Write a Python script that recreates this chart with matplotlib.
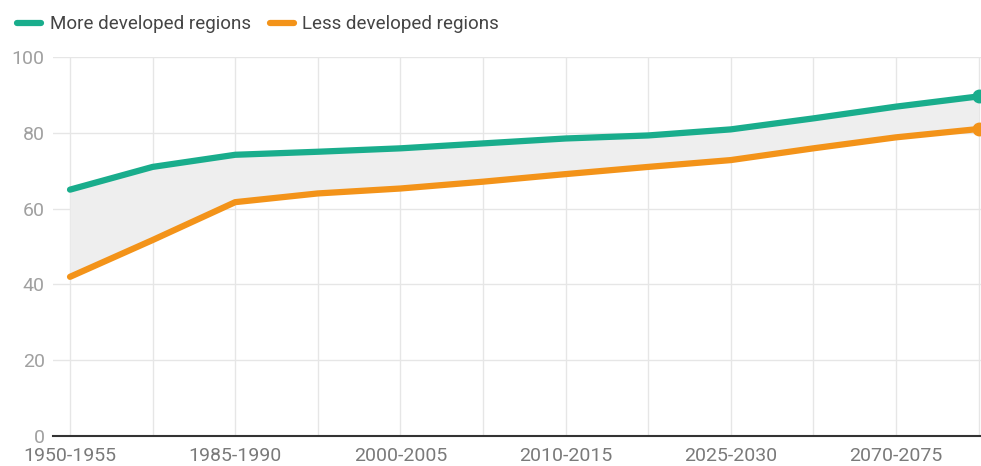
import matplotlib
matplotlib.use("Agg")
import matplotlib.pyplot as plt
from matplotlib.lines import Line2D

periods = ["1950-1955", "1965-1970", "1985-1990", "1995-2000", "2000-2005", "2005-2010",
           "2010-2015", "2015-2020", "2025-2030", "2045-2050", "2070-2075", "2095-2100"]
shown_labels = ["1950-1955", "1985-1990", "2000-2005", "2010-2015", "2025-2030", "2070-2075"]
more_developed = [65.0, 71.0, 74.2, 75.0, 75.9, 77.2, 78.5, 79.3, 80.9, 83.8, 86.9, 89.6]
less_developed = [42.0, 51.7, 61.7, 64.0, 65.3, 67.1, 69.1, 71.0, 72.8, 75.9, 78.8, 81.0]
series_names = ["More developed regions", "Less developed regions"]
teal = "#19ad8c"
orange = "#f39319"

plt.rcParams['font.family'] = ['Roboto', 'DejaVu Sans']

fig = plt.figure(figsize=(9.81, 4.66), dpi=100)
ax = fig.add_axes([53/981, 1 - 436/466, 1 - 53/981, (436 - 57)/466])

x = list(range(len(periods)))
ax.fill_between(x, less_developed, more_developed, color="#eeeeee", zorder=1, linewidth=0)
ax.plot(x, more_developed, color=teal, lw=4.5, solid_capstyle="round", solid_joinstyle="round", zorder=3)
ax.plot(x, less_developed, color=orange, lw=4.5, solid_capstyle="round", solid_joinstyle="round", zorder=3)
ax.plot([x[-1]], [more_developed[-1]], "o", color=teal, ms=9, zorder=4, clip_on=False)
ax.plot([x[-1]], [less_developed[-1]], "o", color=orange, ms=9, zorder=4, clip_on=False)

ax.set_xlim(-0.206, 11.03)
ax.set_ylim(0, 100)
ax.set_yticks([0, 20, 40, 60, 80, 100])
ax.set_xticks(x)
ax.set_xticklabels([p if p in shown_labels else "" for p in periods])
ax.grid(True, color="#e6e6e6", lw=1, zorder=0)
ax.set_axisbelow(True)
for s in ["top", "right", "left"]:
    ax.spines[s].set_visible(False)
ax.spines["bottom"].set_color("#333333")
ax.spines["bottom"].set_linewidth(1.5)
ax.spines["bottom"].set_zorder(5)
ax.tick_params(axis="both", length=0, labelsize=14, labelcolor="#a0a0a0")
ax.tick_params(axis="x", pad=8, labelcolor="#7a7a7a")
ax.tick_params(axis="y", pad=6)

handles = [Line2D([0], [0], color=teal, lw=4.5, solid_capstyle="round"),
           Line2D([0], [0], color=orange, lw=4.5, solid_capstyle="round")]
fig.legend(handles, series_names, loc="upper left", bbox_to_anchor=(0.004, 0.995), ncol=2,
           frameon=False, fontsize=13.5, labelcolor="#444444", handlelength=1.3,
           handletextpad=0.45, columnspacing=1.0, borderaxespad=0.3)

fig.savefig("out.png", dpi=100, facecolor="white")
